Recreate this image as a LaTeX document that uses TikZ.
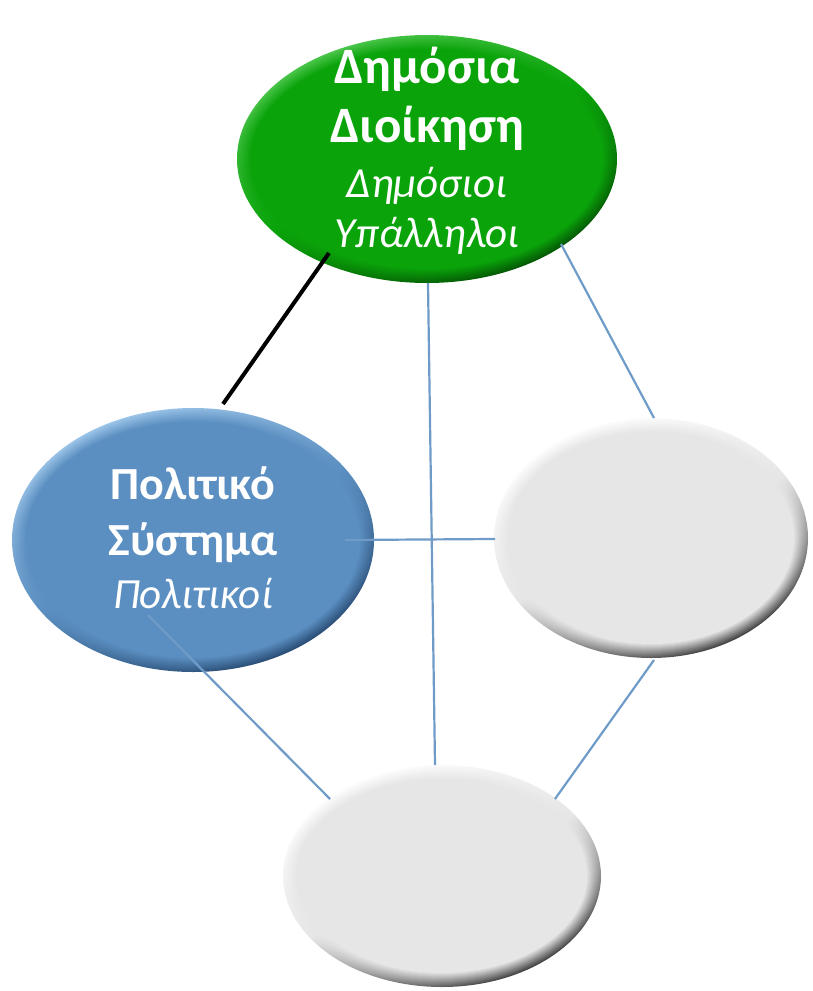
\documentclass[tikz,border=0pt]{standalone}
\usepackage{fontspec}
\setmainfont{Carlito}
\usetikzlibrary{shapes.geometric}
\definecolor{gbase}{RGB}{10,163,10}
\definecolor{glight}{RGB}{80,200,80}
\definecolor{gdark}{RGB}{4,85,4}
\definecolor{bbase}{RGB}{91,143,193}
\definecolor{blight}{RGB}{160,200,235}
\definecolor{bdark}{RGB}{40,75,115}
\definecolor{ybase}{RGB}{230,230,230}
\definecolor{ylight}{RGB}{255,255,255}
\definecolor{ydark}{RGB}{60,60,60}
\definecolor{linkblue}{RGB}{110,155,200}
\newcommand{\bevelell}[7]{%
  \foreach \k in {0,...,14}{%
    \pgfmathtruncatemacro{\mixv}{100-\k*100/14}%
    \shade[top color=#6!\mixv!#5, bottom color=#7!\mixv!#5, middle color=#5, shading angle=25]
      (#1,#2) ellipse [x radius=#3-\k, y radius=#4-\k];
  }}
\newcommand{\itl}{\fontsize{43}{50}\selectfont\mdseries\itshape}
\tikzset{
  bubble/.style={shape=ellipse, inner sep=0pt, align=center, text=white},
  bigtext/.style={font=\fontsize{51}{59}\selectfont\bfseries},
  midtext/.style={font=\fontsize{46}{56}\selectfont\bfseries},
  link/.style={draw=linkblue, line width=2.2pt},
  mainlink/.style={draw=black, line width=4pt},
}
\begin{document}
\begin{tikzpicture}[x=1pt,y=-1pt]
\useasboundingbox (0,0) rectangle (813,991);
% bevelled ellipses
\bevelell{427}{159}{190}{124}{gbase}{glight}{gdark}
\bevelell{193}{540}{181}{132}{bbase}{blight}{bdark}
\bevelell{651}{538}{157}{120}{ybase}{ylight}{ydark}
\bevelell{442}{876}{159}{111}{ybase}{ylight}{ydark}
% nodes
\node[bubble, bigtext, minimum width=380pt, minimum height=248pt] (dd) at (427,151)
  {Δημόσια\\Διοίκηση\\[-4pt]{\itl Δημόσιοι}\\[-9pt]{\itl Υπάλληλοι}};
\node[bubble, midtext, minimum width=362pt, minimum height=264pt] (ps) at (193,538)
  {Πολιτικό\\Σύστημα\\[-3pt]{\itl Πολιτικοί}};
\node[bubble, minimum width=314pt, minimum height=240pt] (rt) at (651,538) {};
\node[bubble, minimum width=318pt, minimum height=222pt] (bt) at (442,876) {};
% connector end points
\coordinate (k1) at (329,253);
\coordinate (k2) at (223,404);
\coordinate (a1) at (561,244);
\coordinate (a2) at (654,418);
\coordinate (b1) at (428,283);
\coordinate (b2) at (435,765);
\coordinate (c1) at (345,540);
\coordinate (c2) at (495,539);
\coordinate (d1) at (148,615);
\coordinate (d2) at (330,799);
\coordinate (e1) at (654,660);
\coordinate (e2) at (555,799);
\draw[link] (a1) -- (a2);
\draw[link] (b1) -- (b2);
\draw[link] (c1) -- (c2);
\draw[link] (d1) -- (d2);
\draw[link] (e1) -- (e2);
\draw[mainlink] (k1) -- (k2);
\end{tikzpicture}
\end{document}
